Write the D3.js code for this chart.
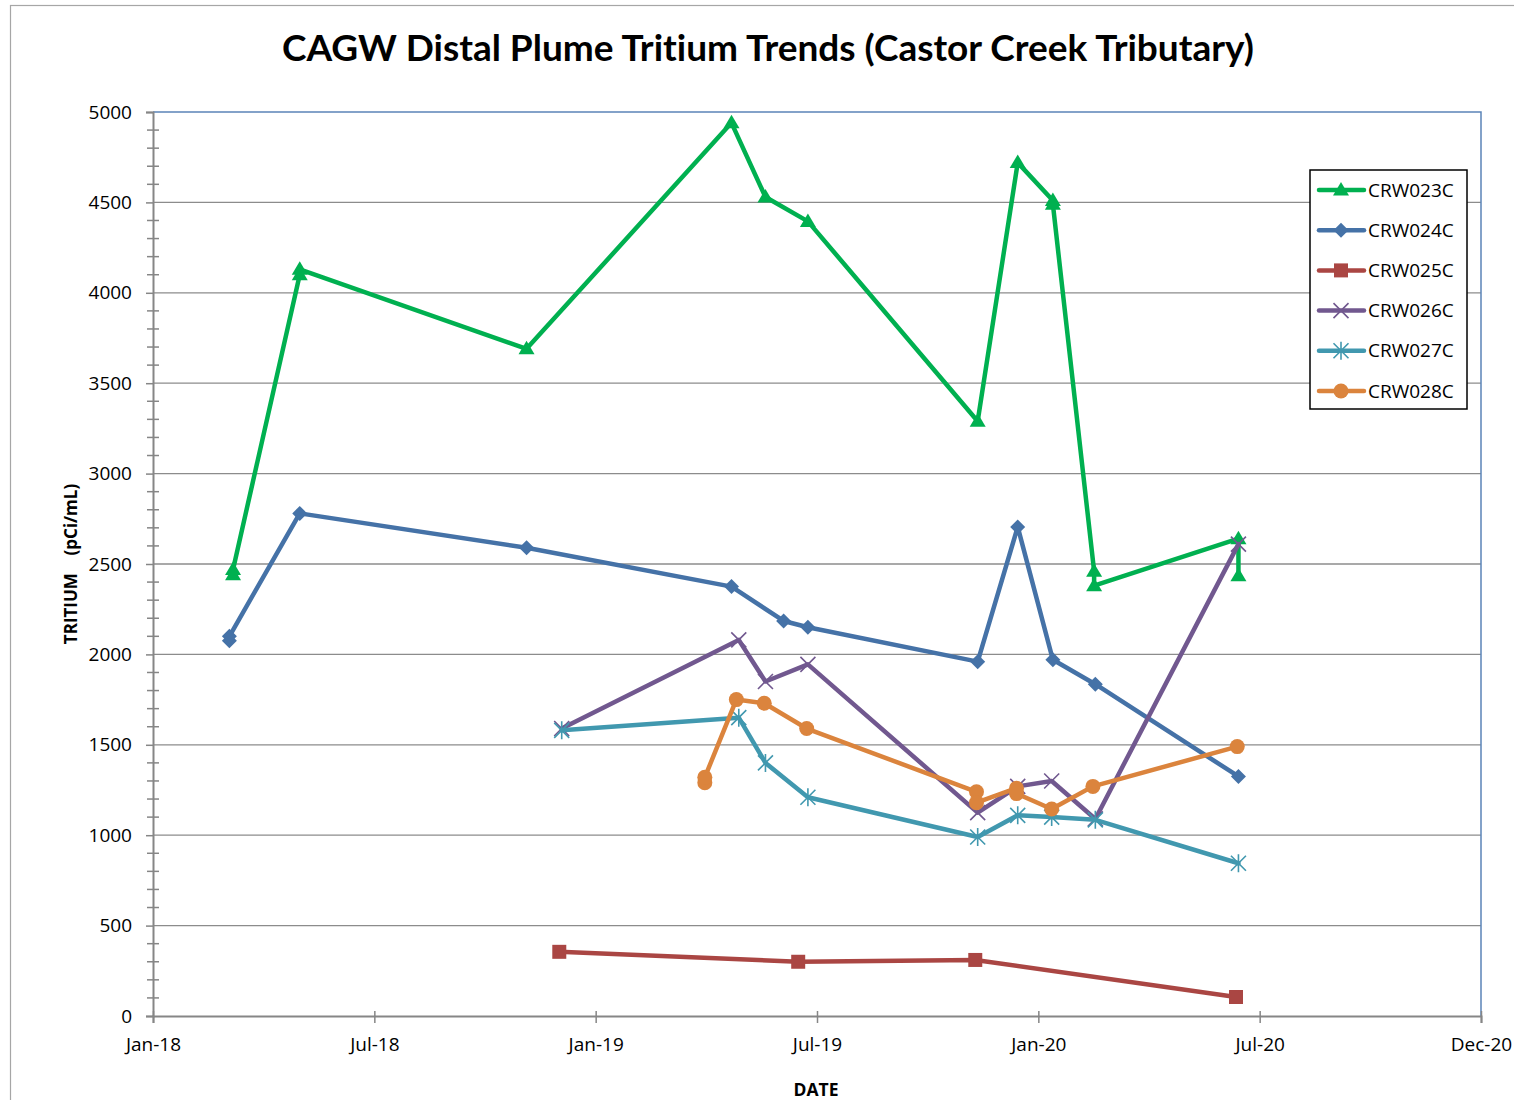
<!DOCTYPE html>
<html>
<head>
<meta charset="utf-8">
<script src="https://cdn.jsdelivr.net/npm/d3@7"></script>
<style>
    body { margin: 0; background: #fff; }
    #chart svg text { font-family: "Open Sans", "Noto Sans", sans-serif; fill: #000; font-variant-ligatures: none; }
</style>
</head>
<body>
<div id="chart"></div>
<script>
// Series names, in legend / draw order
const seriesNames = ["CRW023C", "CRW024C", "CRW025C", "CRW026C", "CRW027C", "CRW028C"];

// Sample dates and tritium values (pCi/mL)
const crw023cDates = ["2018-03-08", "2018-03-08", "2018-05-02", "2018-05-02", "2018-11-05", "2019-04-23", "2019-05-21",
    "2019-06-25", "2019-11-12", "2019-12-15", "2020-01-13", "2020-01-13", "2020-02-16", "2020-02-16", "2020-06-14", "2020-06-14"];
const crw023cValues = [2440, 2470, 4100, 4130, 3690, 4940, 4530, 4395, 3290, 4720, 4510, 4490, 2460, 2380, 2640, 2435];

const crw024cDates = ["2018-03-05", "2018-03-05", "2018-05-02", "2018-11-05", "2019-04-23", "2019-06-05", "2019-06-25",
    "2019-11-12", "2019-12-15", "2020-01-13", "2020-02-17", "2020-06-14"];
const crw024cValues = [2075, 2100, 2780, 2590, 2375, 2185, 2150, 1960, 2705, 1970, 1835, 1325];

const crw025cDates = ["2018-12-02", "2019-06-17", "2019-11-10", "2020-06-12"];
const crw025cValues = [355, 300, 310, 105];

const crw026cDates = ["2018-12-04", "2019-04-29", "2019-05-21", "2019-06-25", "2019-11-12", "2019-12-15", "2020-01-12",
    "2020-02-17", "2020-06-14"];
const crw026cValues = [1590, 2080, 1850, 1945, 1125, 1270, 1300, 1090, 2610];

const crw027cDates = ["2018-12-04", "2019-04-29", "2019-05-21", "2019-06-25", "2019-11-12", "2019-12-15", "2020-01-12",
    "2020-02-17", "2020-06-14"];
const crw027cValues = [1580, 1650, 1400, 1210, 990, 1110, 1100, 1085, 845];

const crw028cDates = ["2019-04-01", "2019-04-01", "2019-04-27", "2019-05-20", "2019-06-24", "2019-11-11", "2019-11-11",
    "2019-12-14", "2019-12-14", "2020-01-12", "2020-02-15", "2020-06-13"];
const crw028cValues = [1290, 1320, 1750, 1730, 1590, 1240, 1180, 1260, 1230, 1145, 1270, 1490];

// Axis tick labels
const xTickLabels = ["Jan-18", "Jul-18", "Jan-19", "Jul-19", "Jan-20", "Jul-20", "Dec-20"];
const yTickValues = [0, 500, 1000, 1500, 2000, 2500, 3000, 3500, 4000, 4500, 5000];

const colors = ["#00b050", "#4572a7", "#aa4643", "#71588f", "#4198af", "#db843d"];
const markers = ["triangle", "diamond", "square", "cross", "star", "circle"];

const parseDate = d3.timeParse("%Y-%m-%d");

const seriesTable = [
    [crw023cDates, crw023cValues],
    [crw024cDates, crw024cValues],
    [crw025cDates, crw025cValues],
    [crw026cDates, crw026cValues],
    [crw027cDates, crw027cValues],
    [crw028cDates, crw028cValues]
].map(([dates, values], i) => ({
    name: seriesNames[i],
    color: colors[i],
    marker: markers[i],
    points: dates.map((d, j) => ({ date: parseDate(d), value: values[j] }))
}));

const width = 1514, height = 1100;
const margin = { top: 112, right: 33, bottom: 84, left: 153 };

const svg = d3.select("#chart")
    .append("svg")
    .attr("width", width)
    .attr("height", height);

// chart area border
svg.append("rect")
    .attr("x", 10.5).attr("y", 5.5)
    .attr("width", width + 20).attr("height", height + 20)
    .attr("fill", "none")
    .attr("stroke", "#a6a6a6")
    .attr("stroke-width", 1.2);

const xStart = parseDate("2018-01-01"), xEnd = parseDate("2020-12-31");
const x = d3.scaleTime()
    .domain([xStart, xEnd])
    .range([margin.left, width - margin.right]);

const y = d3.scaleLinear()
    .domain([0, 5000])
    .range([height - margin.bottom, margin.top]);

const xTicks = d3.range(xTickLabels.length)
    .map(i => new Date(+xStart + i * (xEnd - xStart) / (xTickLabels.length - 1)));

// horizontal gridlines
svg.append("g")
    .selectAll("line")
    .data(yTickValues.filter(v => v > 0 && v < 5000))
    .join("line")
    .attr("x1", margin.left).attr("x2", width - margin.right)
    .attr("y1", d => y(d)).attr("y2", d => y(d))
    .attr("stroke", "#8c8c8c")
    .attr("stroke-width", 1.3);

// plot area border (top / right)
svg.append("path")
    .attr("d", `M${margin.left},${y(5000)}H${width - margin.right}V${y(0)}`)
    .attr("fill", "none")
    .attr("stroke", "#5b84b8")
    .attr("stroke-width", 1.5);

// y minor ticks
svg.append("g")
    .selectAll("line")
    .data(d3.range(0, 5001, 100).filter(v => v % 500 !== 0))
    .join("line")
    .attr("x1", margin.left - 6).attr("x2", margin.left + 6)
    .attr("y1", d => y(d)).attr("y2", d => y(d))
    .attr("stroke", "#868686")
    .attr("stroke-width", 1.5);

const yAxis = svg.append("g")
    .attr("transform", `translate(${margin.left},0)`)
    .call(d3.axisLeft(y).tickValues(yTickValues).tickSize(7).tickPadding(14).tickFormat(d3.format("d")));
yAxis.select(".domain").attr("stroke", "#868686").attr("stroke-width", 2);
yAxis.selectAll(".tick line").attr("stroke", "#868686").attr("stroke-width", 1.5);
yAxis.selectAll(".tick text").style("font-size", "19px");

const xAxis = svg.append("g")
    .attr("transform", `translate(0,${y(0)})`)
    .call(d3.axisBottom(x).tickValues(xTicks).tickSize(7).tickPadding(15)
        .tickFormat((d, i) => xTickLabels[i]));
xAxis.select(".domain").attr("stroke", "#868686").attr("stroke-width", 2);
xAxis.selectAll(".tick line").attr("y1", -5).attr("stroke", "#868686").attr("stroke-width", 1.5);
xAxis.selectAll(".tick text").style("font-size", "19px");

// marker shapes
function markerPath(type) {
    switch (type) {
        case "triangle": return "M0,-8L8,5.5L-8,5.5Z";
        case "diamond": return "M0,-7.5L7.5,0L0,7.5L-7.5,0Z";
        case "square": return "M-7,-7H7V7H-7Z";
        case "cross": return "M-7.5,-7.5L7.5,7.5M-7.5,7.5L7.5,-7.5";
        case "star": return "M-7.5,-7.5L7.5,7.5M-7.5,7.5L7.5,-7.5M0,-9V9";
        default: return null;
    }
}

function drawMarker(g, type, color) {
    if (type === "circle") {
        g.append("circle").attr("r", 7.5).attr("fill", color);
    } else if (type === "cross" || type === "star") {
        g.append("path").attr("d", markerPath(type))
            .attr("fill", "none").attr("stroke", color).attr("stroke-width", 1.6);
    } else {
        g.append("path").attr("d", markerPath(type)).attr("fill", color);
    }
}

const line = d3.line()
    .x(d => x(d.date))
    .y(d => y(d.value));

seriesTable.forEach(s => {
    const g = svg.append("g").attr("class", "series");
    g.append("path")
        .datum(s.points)
        .attr("d", line)
        .attr("fill", "none")
        .attr("stroke", s.color)
        .attr("stroke-width", 4.5)
        .attr("stroke-linejoin", "round")
        .attr("stroke-linecap", "round");
    g.selectAll(".pt")
        .data(s.points)
        .join("g")
        .attr("class", "pt")
        .attr("transform", d => `translate(${x(d.date)},${y(d.value)})`)
        .each(function () { drawMarker(d3.select(this), s.marker, s.color); });
});

// legend
const legend = svg.append("g").attr("transform", "translate(1310,170)");
legend.append("rect")
    .attr("width", 157).attr("height", 239)
    .attr("fill", "#fff")
    .attr("stroke", "#000")
    .attr("stroke-width", 1.5);
seriesTable.forEach((s, i) => {
    const row = legend.append("g").attr("transform", `translate(0,${20 + i * 40.2})`);
    row.append("line")
        .attr("x1", 9).attr("x2", 54)
        .attr("stroke", s.color).attr("stroke-width", 4.5).attr("stroke-linecap", "round");
    drawMarker(row.append("g").attr("transform", "translate(31,0)"), s.marker, s.color);
    row.append("text")
        .attr("x", 58).attr("dy", "0.35em")
        .style("font-size", "19px")
        .text(s.name);
});

// titles
svg.append("text")
    .attr("x", 768).attr("y", 61)
    .attr("text-anchor", "middle")
    .style("font-family", "Lato, 'Open Sans', sans-serif")
    .style("font-size", "37px")
    .style("font-weight", "bold")
    .text("CAGW Distal Plume Tritium Trends (Castor Creek Tributary)");

svg.append("text")
    .attr("transform", "translate(77,564) rotate(-90)")
    .attr("text-anchor", "middle")
    .style("font-size", "17px")
    .style("font-weight", "bold")
    .style("white-space", "pre")
    .text("TRITIUM    (pCi/mL)");

svg.append("text")
    .attr("x", 816).attr("y", 1096)
    .attr("text-anchor", "middle")
    .style("font-size", "17.5px")
    .style("font-weight", "bold")
    .text("DATE");
</script>
</body>
</html>
